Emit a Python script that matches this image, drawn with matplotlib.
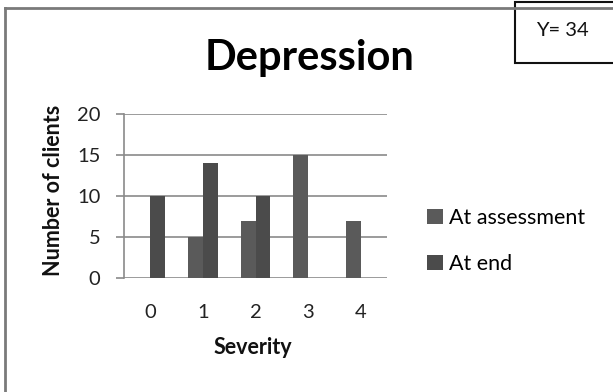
import matplotlib
matplotlib.use("Agg")
import matplotlib.pyplot as plt
from matplotlib.lines import Line2D
from matplotlib.patches import Rectangle
import numpy as np

plt.rcParams['font.family'] = ['Lato', 'DejaVu Sans']

severity = [0, 1, 2, 3, 4]
at_assessment = [0, 5, 7, 15, 7]
at_end = [10, 14, 10, 0, 0]
series_names = ["At assessment", "At end"]
y_ticks = [0, 5, 10, 15, 20]
title = "Depression"
note = "Y= 34"

W, H = 613, 392
fig = plt.figure(figsize=(W / 100, H / 100), dpi=100)
fig.patch.set_facecolor("white")

# plot area in pixel coordinates (left, top, right, bottom)
L, T, R, B = 124, 114, 387, 278
ax = fig.add_axes([L / W, 1 - B / H, (R - L) / W, (B - T) / H])

x = np.arange(len(severity))
bw = 0.285
c_assess = "#5a5a5a"
c_end = "#4b4b4b"
ax.bar(x - bw / 2, at_assessment, width=bw, color=c_assess, label=series_names[0], zorder=3)
ax.bar(x + bw / 2, at_end, width=bw, color=c_end, label=series_names[1], zorder=3)

ax.set_xlim(-0.5, len(severity) - 0.5)
ax.set_ylim(0, 20)
ax.set_yticks(y_ticks)
ax.set_xticks(x)
ax.set_xticklabels([str(s) for s in severity])
ax.yaxis.grid(True, color="#8a8a8a", linewidth=1.2, zorder=0)
for s in ["top", "right", "bottom"]:
    ax.spines[s].set_visible(False)
ax.spines["left"].set_color("#8a8a8a")
ax.spines["left"].set_linewidth(1.2)
ax.tick_params(axis="y", length=6, color="#8a8a8a", width=1.2, labelsize=14.5, pad=11, labelcolor="#222222")
ax.tick_params(axis="x", length=0, labelsize=14.5, pad=19, labelcolor="#222222")

ax.set_xlabel("Severity", fontsize=15.5, fontweight="bold", color="#111111", va="center")
ax.set_ylabel("Number of clients", fontsize=15.5, fontweight="bold", color="#111111", va="center")
ax.xaxis.set_label_coords(0.5 + (253 - (L + R) / 2) / (R - L), (B - 347) / (B - T))
ax.yaxis.set_label_coords((54 - L) / (R - L), 0.5 + ((T + B) / 2 - 190) / (B - T))

fig.text(310 / W, 1 - 58 / H, title, fontsize=30, fontweight="bold", ha="center", va="center", color="#000000")

# legend
ax.legend(loc="center left", bbox_to_anchor=((418 - L) / (R - L), 0.5 - (241 - (T + B) / 2) / (B - T)),
          frameon=False, fontsize=15.5, handlelength=0.75, handleheight=0.75,
          handletextpad=0.3, labelspacing=1.2, borderaxespad=0)

# outer frame lines (left and top)
fig.add_artist(Line2D([5 / W, 5 / W], [0, 1 - 8 / H], transform=fig.transFigure, color="#7a7a7a", linewidth=2))
fig.add_artist(Line2D([5 / W, 1], [1 - 8 / H, 1 - 8 / H], transform=fig.transFigure, color="#7a7a7a", linewidth=2))

# note box in top-right corner
fig.add_artist(Rectangle((515 / W, 1 - 63 / H), (W - 515 + 5) / W, (63 - 2) / H,
                         transform=fig.transFigure, facecolor="white", edgecolor="#111111", linewidth=1.5))
fig.text(562 / W, 1 - 30 / H, note, fontsize=14.5, ha="center", va="center", color="#111111")

fig.savefig("out.png", dpi=100)
